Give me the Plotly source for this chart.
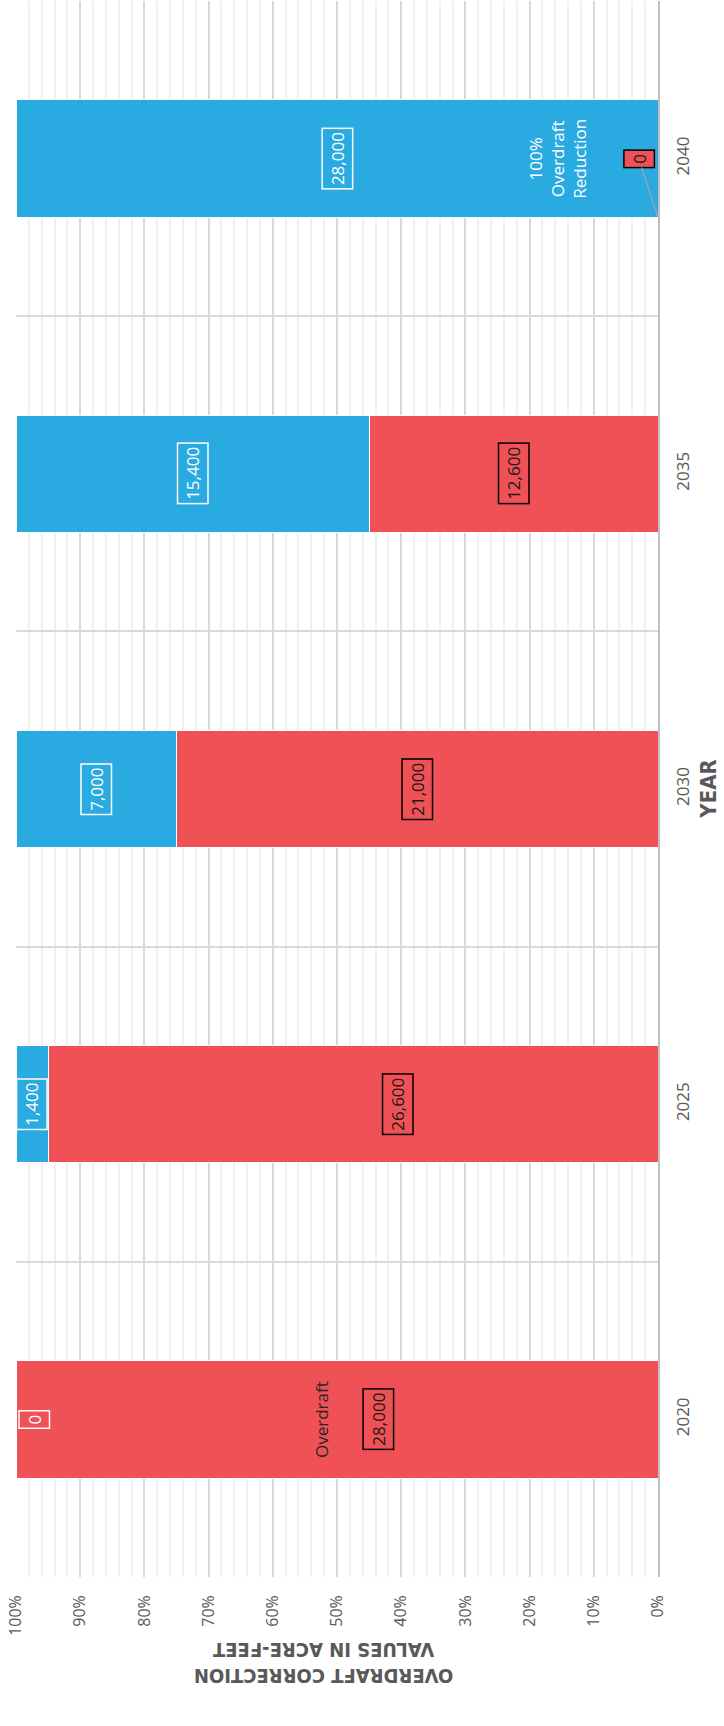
import plotly.graph_objects as go

# ---- data ----
years = [2020, 2025, 2030, 2035, 2040]
overdraft = [28000, 26600, 21000, 12600, 0]
reduction = [0, 1400, 7000, 15400, 28000]
pct_ticks = list(range(0, 101, 10))

# ---- styling / label placement (percent positions along bar axis) ----
RED = "#EF5156"
BLUE = "#29ABE2"
GRAY_TXT = "#595959"
FONT = "Open Sans, sans-serif"
TITLE_FONT = "DejaVu Sans Condensed, DejaVu Sans, sans-serif"
BARGAP = 0.628
overdraft_label_override = {2020: 43.5, 2025: 40.5, 2040: 3.0}
reduction_label_override = {2020: 97.1}

fig = go.Figure()
fig.add_trace(go.Bar(y=years, x=overdraft, orientation="h", name="Overdraft",
                     marker=dict(color=RED, line=dict(color="white", width=1))))
fig.add_trace(go.Bar(y=years, x=reduction, orientation="h", name="Overdraft Reduction",
                     marker=dict(color=BLUE, line=dict(color="white", width=1))))

annotations = []
step = years[1] - years[0]
half_bar = step * (1 - BARGAP) / 2
for yr, od, rd in zip(years, overdraft, reduction):
    tot = od + rd
    p_od = od / tot * 100
    p_rd = rd / tot * 100
    # overdraft label
    x_od = overdraft_label_override.get(yr, p_od / 2)
    ann = dict(x=x_od, y=yr, xref="x", yref="y", text=f"{od:,}", textangle=-90,
               showarrow=False, font=dict(family=FONT, size=17, color="#1a1a1a"),
               bordercolor="black", borderwidth=1.5, borderpad=3)
    if od == 0:
        ann.update(bgcolor=RED, showarrow=True, axref="x", ayref="y",
                   ax=x_od, ay=yr, x=0, y=yr - half_bar, arrowhead=0,
                   arrowcolor="#A6A6A6", arrowwidth=1.2)
    annotations.append(ann)
    # reduction label
    x_rd = reduction_label_override.get(yr, p_od + p_rd / 2)
    annotations.append(dict(x=x_rd, y=yr, xref="x", yref="y", text=f"{rd:,}", textangle=-90,
                            showarrow=False, font=dict(family=FONT, size=17, color="white"),
                            bordercolor="white", borderwidth=1.5, borderpad=3))

# series name labels
annotations.append(dict(x=52.4, y=years[0], xref="x", yref="y", text="Overdraft",
                        textangle=-90, showarrow=False,
                        font=dict(family=FONT, size=17, color="#262626")))
annotations.append(dict(x=15.7, y=years[-1], xref="x", yref="y",
                        text="100%<br>Overdraft<br>Reduction", textangle=-90,
                        showarrow=False, font=dict(family=FONT, size=17, color="white")))

# axis titles
annotations.append(dict(x=1.10, y=0.5, xref="paper", yref="paper", text="<b>YEAR</b>",
                        textangle=-90, showarrow=False,
                        font=dict(family=TITLE_FONT, size=22, color=GRAY_TXT)))
annotations.append(dict(x=0.48, y=-0.0717, xref="paper", yref="paper",
                        text="<b>OVERDRAFT CORRECTION<br>VALUES IN ACRE-FEET</b>",
                        textangle=180, showarrow=False,
                        font=dict(family=TITLE_FONT, size=20, color=GRAY_TXT)))

fig.update_layout(
    width=724, height=1726,
    margin=dict(l=16, r=66, t=1, b=149),
    barmode="stack", barnorm="percent", bargap=BARGAP,
    paper_bgcolor="white", plot_bgcolor="white",
    showlegend=False,
    annotations=annotations,
    xaxis=dict(range=[100, 0], tickmode="array", tickvals=pct_ticks,
               ticktext=[f"{v}%" for v in pct_ticks], tickangle=-90,
               tickfont=dict(family=FONT, size=16, color=GRAY_TXT),
               ticklabelstandoff=14,
               showgrid=True, gridcolor="#D9D9D9", gridwidth=2,
               minor=dict(tickmode="linear", tick0=0, dtick=2, showgrid=True,
                          gridcolor="#F0F0F0", gridwidth=1.5),
               zeroline=False, showline=False, fixedrange=True),
    yaxis=dict(range=[years[0] - step / 2, years[-1] + step / 2], side="right",
               tickmode="array", tickvals=years, ticktext=[str(y) for y in years],
               tickangle=-90, tickfont=dict(family=FONT, size=17, color=GRAY_TXT),
               ticklabelstandoff=9,
               showgrid=False,
               minor=dict(tickmode="array",
                          tickvals=[y - step / 2 for y in years] + [years[-1] + step / 2],
                          showgrid=True, gridcolor="#D9D9D9", gridwidth=2),
               showline=True, linecolor="#BFBFBF", linewidth=2,
               zeroline=False, fixedrange=True),
)

fig.write_html("out.html", config={"displayModeBar": False},
               post_script="document.body.style.margin='0';")
